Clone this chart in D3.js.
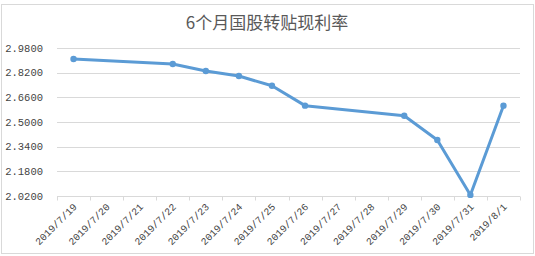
<!DOCTYPE html>
<html>
<head>
<meta charset="utf-8">
<script src="https://cdn.jsdelivr.net/npm/d3@7"></script>
<style>
  body { margin: 0; background: #fff; }
</style>
</head>
<body>
<script>
// data
var dates = ["2019/7/19", "2019/7/20", "2019/7/21", "2019/7/22", "2019/7/23", "2019/7/24", "2019/7/25",
             "2019/7/26", "2019/7/27", "2019/7/28", "2019/7/29", "2019/7/30", "2019/7/31", "2019/8/1"]
var rates = [2.909, null, null, 2.876, 2.831, 2.798, 2.735, 2.606, null, null, 2.541, 2.383, 2.027, 2.606]
var yTicks = [2.02, 2.18, 2.34, 2.50, 2.66, 2.82, 2.98]
var title = "6个月国股转贴现利率"

var width = 535, height = 256
var margin = {top: 48, right: 15, bottom: 60, left: 57}

var svg = d3.select("body").append("svg")
    .attr("width", width)
    .attr("height", height)

// chart frame
svg.append("rect")
    .attr("x", 1.5).attr("y", 4.5)
    .attr("width", 532).attr("height", 249)
    .attr("fill", "#fff")
    .attr("stroke", "#d9d9d9")

var x = d3.scaleBand()
    .domain(dates)
    .range([margin.left, width - margin.right])
var y = d3.scaleLinear()
    .domain([2.02, 2.98])
    .range([height - margin.bottom, margin.top])

// gridlines
svg.append("g")
    .selectAll("line")
    .data(yTicks)
    .join("line")
        .attr("x1", margin.left).attr("x2", width - margin.right)
        .attr("y1", d => Math.round(y(d)) + 0.5).attr("y2", d => Math.round(y(d)) + 0.5)
        .attr("stroke", "#d9d9d9")

// y labels
svg.append("g")
    .selectAll("text")
    .data(yTicks)
    .join("text")
        .attr("x", 43)
        .attr("y", d => y(d))
        .attr("dy", "0.35em")
        .attr("text-anchor", "end")
        .attr("font-family", "Liberation Mono, monospace")
        .attr("font-size", 10.5)
        .attr("fill", "#444")
        .text(d => d3.format(".4f")(d))

// x axis with ticks on category boundaries
var axisY = Math.round(y(2.02)) + 0.5
var bounds = dates.map(d => x(d)).concat([x.range()[1]])
var xa = svg.append("g")
xa.append("line")
    .attr("x1", margin.left).attr("x2", width - margin.right)
    .attr("y1", axisY).attr("y2", axisY)
    .attr("stroke", "#d9d9d9")
xa.selectAll(".tk")
    .data(bounds)
    .join("line")
        .attr("class", "tk")
        .attr("x1", d => Math.round(d) + 0.5).attr("x2", d => Math.round(d) + 0.5)
        .attr("y1", axisY).attr("y2", axisY + 4)
        .attr("stroke", "#d9d9d9")
xa.selectAll("text")
    .data(dates)
    .join("text")
        .attr("transform", d => `translate(${x(d) + x.bandwidth() / 2 + 4},${axisY + 11}) rotate(-45)`)
        .attr("text-anchor", "end")
        .attr("font-family", "Liberation Mono, monospace")
        .attr("font-size", 10)
        .attr("fill", "#444")
        .text(d => d)

// the series, joined across the missing days
var pts = dates.map((d, i) => ({date: d, value: rates[i]})).filter(d => d.value !== null)
var line = d3.line()
    .x(d => x(d.date) + x.bandwidth() / 2)
    .y(d => y(d.value))

svg.append("path")
    .datum(pts)
    .attr("d", line)
    .attr("fill", "none")
    .attr("stroke", "#5b9bd5")
    .attr("stroke-width", 3)
    .attr("stroke-linejoin", "round")
    .attr("stroke-linecap", "round")

svg.append("g")
    .selectAll("circle")
    .data(pts)
    .join("circle")
        .attr("cx", d => x(d.date) + x.bandwidth() / 2)
        .attr("cy", d => y(d.value))
        .attr("r", 3.2)
        .attr("fill", "#5b9bd5")

// title
svg.append("text")
    .attr("x", 267)
    .attr("y", 29)
    .attr("text-anchor", "middle")
    .attr("font-family", "Noto Sans CJK SC, sans-serif")
    .attr("font-size", 17)
    .attr("fill", "#595959")
    .text(title)
</script>
</body>
</html>
